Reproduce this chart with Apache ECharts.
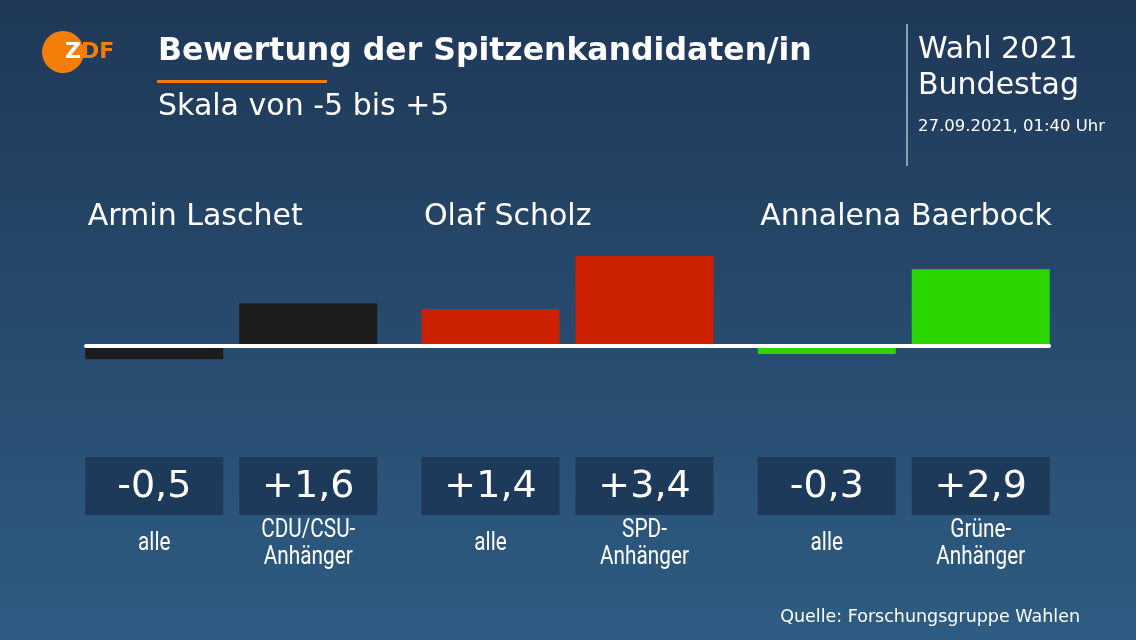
<!DOCTYPE html>
<html>
<head>
<meta charset="utf-8">
<script src="https://cdn.jsdelivr.net/npm/echarts@6/dist/echarts.min.js"></script>
<style>
html,body{margin:0;padding:0;background:#203858;}
#chart{width:1136px;height:640px;}
</style>
</head>
<body>
<div id="chart"></div>
<script>
// ---- data ----
const candidates = ['Armin Laschet', 'Olaf Scholz', 'Annalena Baerbock'];
const alleValues = [-0.5, 1.4, -0.3];
const anhaengerValues = [1.6, 3.4, 2.9];
const alleLabel = 'alle';
const anhaengerLabels = ['CDU/CSU-\nAnhänger', 'SPD-\nAnhänger', 'Grüne-\nAnhänger'];
const scaleRange = [-5, 5];

// ---- styles ----
const partyColors = ['#1c1c1c', '#cc2100', '#2bd600'];
const BAR_W = 138, BAR_GAP = 16;
const FONT = '"DejaVu Sans", Roboto, sans-serif';
const NARROW = 'Roboto, "DejaVu Sans Condensed", sans-serif';

function fmt(v) {
  return (v > 0 ? '+' : '') + v.toFixed(1).replace('.', ',');
}

const chart = echarts.init(document.getElementById('chart'));

const boxData = [];
candidates.forEach((c, i) => {
  boxData.push([i, 0, alleValues[i]]);
  boxData.push([i, 1, anhaengerValues[i]]);
});

const xRange = { min: -0.432, max: 2.432 };

chart.setOption({
  backgroundColor: new echarts.graphic.LinearGradient(0, 0, 0, 1, [
    { offset: 0, color: '#1f3858' },
    { offset: 1, color: '#2e5c82' }
  ]),
  animation: false,
  grid: [
    { left: 86, right: 87, top: 213.5, height: 265 },
    { left: 86, right: 87, top: 457, height: 58 }
  ],
  xAxis: [
    {
      type: 'value', gridIndex: 0, min: xRange.min, max: xRange.max, z: 10,
      axisLine: { show: true, onZero: true, lineStyle: { color: '#ffffff', width: 4 } },
      axisTick: { show: false }, axisLabel: { show: false }, splitLine: { show: false }
    },
    {
      type: 'value', gridIndex: 1, min: xRange.min, max: xRange.max, show: false
    }
  ],
  yAxis: [
    { type: 'value', gridIndex: 0, min: scaleRange[0], max: scaleRange[1], show: false },
    { type: 'value', gridIndex: 1, min: 0, max: 1, show: false }
  ],
  series: [
    {
      type: 'bar', xAxisIndex: 0, yAxisIndex: 0,
      barWidth: BAR_W, barGap: (BAR_GAP / BAR_W * 100) + '%',
      data: alleValues.map((v, i) => ({ value: [i, v], itemStyle: { color: partyColors[i] } }))
    },
    {
      type: 'bar', xAxisIndex: 0, yAxisIndex: 0,
      barWidth: BAR_W, barGap: (BAR_GAP / BAR_W * 100) + '%',
      data: anhaengerValues.map((v, i) => ({ value: [i, v], itemStyle: { color: partyColors[i] } }))
    },
    {
      type: 'custom', xAxisIndex: 1, yAxisIndex: 1,
      encode: { x: 0, y: 1 },
      data: boxData,
      renderItem: function (params, api) {
        const g = api.value(0);
        const slot = api.value(1);
        const v = api.value(2);
        const cx = api.coord([g, 0])[0];
        const cs = params.coordSys;
        const x0 = cx - (BAR_W * 2 + BAR_GAP) / 2 + slot * (BAR_W + BAR_GAP);
        const label = slot === 0 ? alleLabel : anhaengerLabels[g];
        const children = [
          { type: 'rect', shape: { x: x0, y: cs.y, width: BAR_W, height: cs.height },
            style: { fill: '#1e3a5a' } },
          { type: 'text', style: { text: fmt(v), x: x0 + BAR_W / 2, y: cs.y + cs.height / 2 + 1,
            align: 'center', verticalAlign: 'middle', fill: '#ffffff', font: '38px ' + FONT } },
          { type: 'text', x: x0 + BAR_W / 2, y: cs.y + cs.height + 29, scaleX: 0.83, scaleY: 1,
            style: { text: label, x: 0, y: 0,
            align: 'center', verticalAlign: 'middle', fill: '#ffffff', font: '25px ' + NARROW, lineHeight: 27 } }
        ];
        if (slot === 0) {
          children.push({ type: 'text', style: { text: candidates[g], x: x0 + 2.5, y: 217,
            align: 'left', verticalAlign: 'middle', fill: '#ffffff', font: '30px ' + FONT } });
        }
        return { type: 'group', children: children };
      }
    }
  ],
  graphic: [
    { type: 'circle', shape: { cx: 63, cy: 52, r: 21 }, style: { fill: '#f57d0a' } },
    { type: 'text', style: { text: '{w|Z}{o|DF}', x: 65, y: 52, verticalAlign: 'middle',
      rich: { w: { fill: '#ffffff', font: 'bold 22px ' + FONT }, o: { fill: '#f57d0a', font: 'bold 22px ' + FONT } } } },
    { type: 'text', style: { text: 'Bewertung der Spitzenkandidaten/in', x: 158, y: 52, verticalAlign: 'middle',
      fill: '#ffffff', font: 'bold 31.5px ' + FONT } },
    { type: 'rect', shape: { x: 157, y: 80, width: 170, height: 3 }, style: { fill: '#f57d0a' } },
    { type: 'text', style: { text: 'Skala von -5 bis +5', x: 158, y: 107, verticalAlign: 'middle',
      fill: '#ffffff', font: '30px ' + FONT } },
    { type: 'rect', shape: { x: 906, y: 24, width: 2, height: 142 }, style: { fill: '#8a9fb5' } },
    { type: 'text', style: { text: 'Wahl 2021', x: 918, y: 50, verticalAlign: 'middle',
      fill: '#ffffff', font: '30px ' + FONT } },
    { type: 'text', style: { text: 'Bundestag', x: 918, y: 86, verticalAlign: 'middle',
      fill: '#ffffff', font: '30px ' + FONT } },
    { type: 'text', style: { text: '27.09.2021, 01:40 Uhr', x: 918, y: 127, verticalAlign: 'middle',
      fill: '#ffffff', font: '16.5px ' + FONT } },
    { type: 'text', style: { text: 'Quelle: Forschungsgruppe Wahlen', x: 1080, y: 617, align: 'right', verticalAlign: 'middle',
      fill: '#ffffff', font: '17.5px ' + FONT } }
  ]
});
</script>
</body>
</html>
